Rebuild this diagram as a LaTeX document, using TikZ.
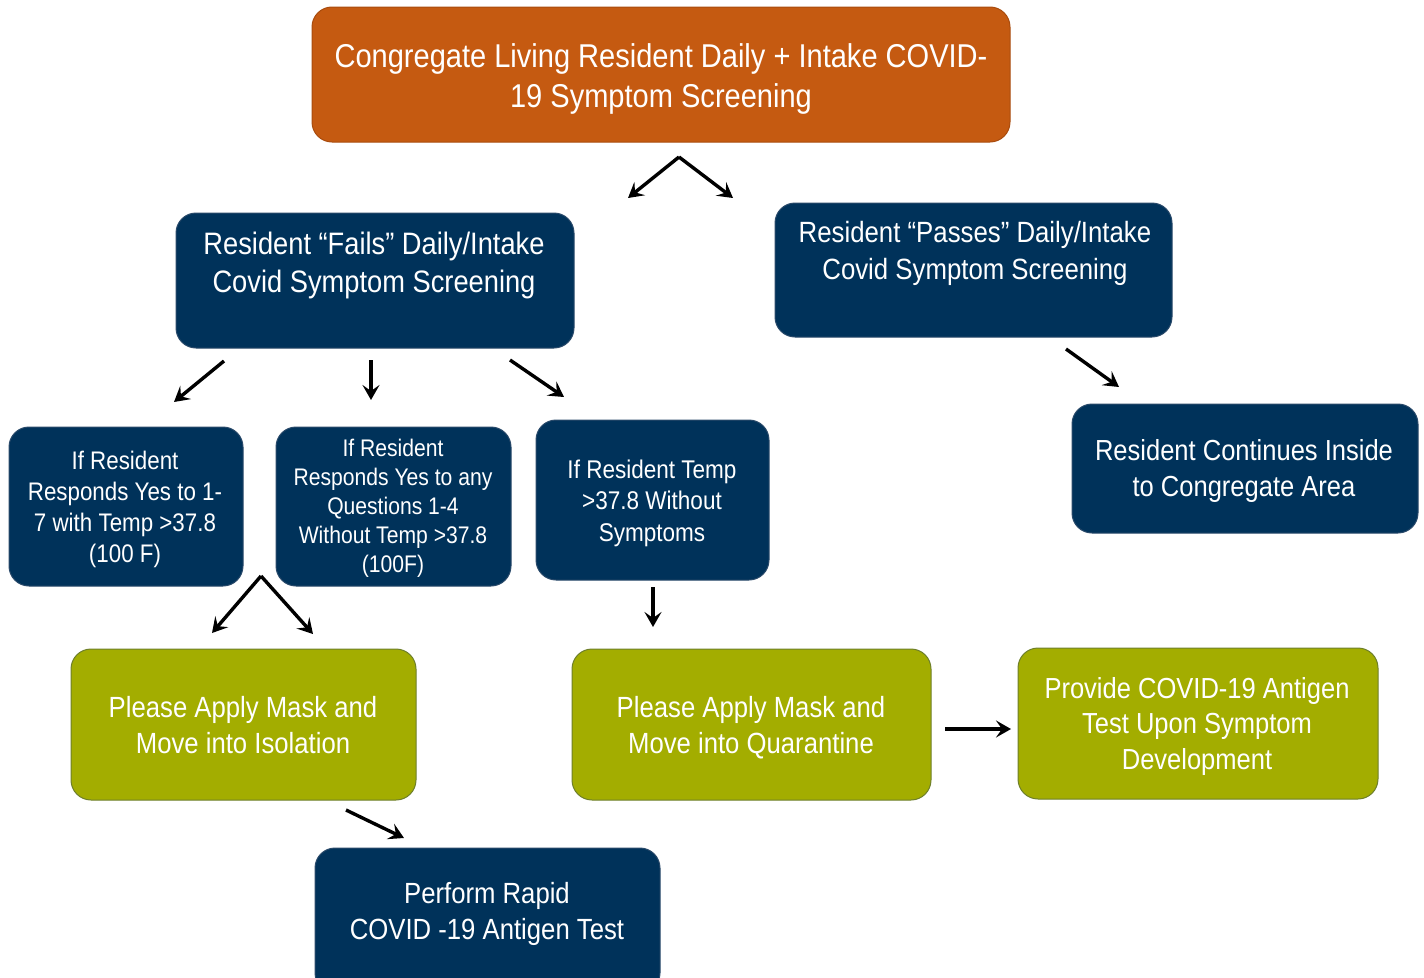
\documentclass[tikz,border=0pt]{standalone}
\usepackage{fontspec}
\setmainfont{Liberation Sans}[FakeStretch=0.88]
\usetikzlibrary{arrows.meta}
\definecolor{cOrange}{HTML}{C55A11}
\definecolor{cOrangeB}{HTML}{A94C0E}
\definecolor{cNavy}{HTML}{00325A}
\definecolor{cNavyB}{HTML}{2A4A6A}
\definecolor{cGreen}{HTML}{A3AD00}
\definecolor{cGreenB}{HTML}{6E7F2A}
\tikzset{
  boxbase/.style={rounded corners=20pt, line width=1pt, inner sep=0pt},
  orangebox/.style={boxbase, fill=cOrange, draw=cOrangeB},
  navybox/.style={boxbase, fill=cNavy, draw=cNavyB},
  greenbox/.style={boxbase, fill=cGreen, draw=cGreenB},
  txt/.style={text=white, align=center, inner sep=0pt},
  arr/.style={line width=3.4pt, -{Stealth[length=15pt,width=17pt,inset=6pt]}}
}
\begin{document}
\begin{tikzpicture}[x=1pt,y=-1pt]
\useasboundingbox (0,0) rectangle (1424,977);
\begin{scope}
\clip (0,0) rectangle (1424,977);
% boxes
\node[orangebox, minimum width=698pt, minimum height=135pt] (top) at (661,74.5) {};
\node[navybox, minimum width=398pt, minimum height=135pt] (fails) at (375,280.5) {};
\node[navybox, minimum width=397pt, minimum height=134pt] (passes) at (973.5,270) {};
\node[navybox, minimum width=346pt, minimum height=129pt] (cont) at (1245,468.5) {};
\node[navybox, minimum width=234pt, minimum height=159pt] (boxA) at (126,506.5) {};
\node[navybox, minimum width=235pt, minimum height=159pt] (boxB) at (393.5,506.5) {};
\node[navybox, minimum width=233pt, minimum height=160pt] (boxC) at (652.5,500) {};
\node[greenbox, minimum width=345pt, minimum height=151pt] (iso) at (243.5,724.5) {};
\node[greenbox, minimum width=359pt, minimum height=151pt] (quar) at (751.5,724.5) {};
\node[greenbox, minimum width=360pt, minimum height=151pt] (anti) at (1198,723.5) {};
\node[navybox, minimum width=345pt, minimum height=145pt] (rapid) at (487.5,920.5) {};
\end{scope}
% texts
\node[txt, font=\fontsize{33}{40}\selectfont] (topT) at (661,78.5) {Congregate Living Resident Daily + Intake COVID-\\19 Symptom Screening};
\node[txt, font=\fontsize{31}{38}\selectfont] (failsT) at (374,265) {Resident “Fails” Daily/Intake\\Covid Symptom Screening};
\node[txt, font=\fontsize{29.3}{37}\selectfont] (passesT) at (975,253) {Resident “Passes” Daily/Intake\\Covid Symptom Screening};
\node[txt, font=\fontsize{29}{36}\selectfont] (contT) at (1244,471) {Resident Continues Inside\\to Congregate Area};
\node[txt, font=\fontsize{25.4}{31}\selectfont] (boxAT) at (125,509) {If Resident\\Responds Yes to 1-\\7 with Temp >37.8\\(100 F)};
\node[txt, font=\fontsize{24}{29}\selectfont] (boxBT) at (393,508) {If Resident\\Responds Yes to any\\Questions 1-4\\Without Temp >37.8\\(100F)};
\node[txt, font=\fontsize{25.6}{31.5}\selectfont] (boxCT) at (652,503) {If Resident Temp\\>37.8 Without\\Symptoms};
\node[txt, font=\fontsize{29.2}{36}\selectfont] (isoT) at (243,725) {Please Apply Mask and\\Move into Isolation};
\node[txt, font=\fontsize{29.2}{36}\selectfont] (quarT) at (751,728) {Please Apply Mask and\\Move into Quarantine};
\node[txt, font=\fontsize{29}{35.5}\selectfont] (antiT) at (1197,726) {Provide COVID-19 Antigen\\Test Upon Symptom\\Development};
\node[txt, font=\fontsize{29.2}{36}\selectfont] (rapidT) at (487,914) {Perform Rapid\\COVID -19 Antigen Test};
% arrow coordinates
\coordinate (s1) at (679,157);
\coordinate (e1a) at (628,198);
\coordinate (e1b) at (733,198);
\coordinate (s2) at (224,361);
\coordinate (e2) at (174,402);
\coordinate (s3) at (371,360);
\coordinate (e3) at (371,400);
\coordinate (s4) at (510,360);
\coordinate (e4) at (564,397);
\coordinate (s5) at (1066,349);
\coordinate (e5) at (1119,387);
\coordinate (s6) at (261,576);
\coordinate (e6a) at (212,633);
\coordinate (e6b) at (313,634);
\coordinate (s7) at (653,587);
\coordinate (e7) at (653,627);
\coordinate (s8) at (945,729);
\coordinate (e8) at (1011,729);
\coordinate (s9) at (346,810);
\coordinate (e9) at (404,838);
\draw[arr] (s1) -- (e1a);
\draw[arr] (s1) -- (e1b);
\draw[arr] (s2) -- (e2);
\draw[arr] (s3) -- (e3);
\draw[arr] (s4) -- (e4);
\draw[arr] (s5) -- (e5);
\draw[arr] (s6) -- (e6a);
\draw[arr] (s6) -- (e6b);
\draw[arr] (s7) -- (e7);
\draw[arr] (s8) -- (e8);
\draw[arr] (s9) -- (e9);
\end{tikzpicture}
\end{document}
